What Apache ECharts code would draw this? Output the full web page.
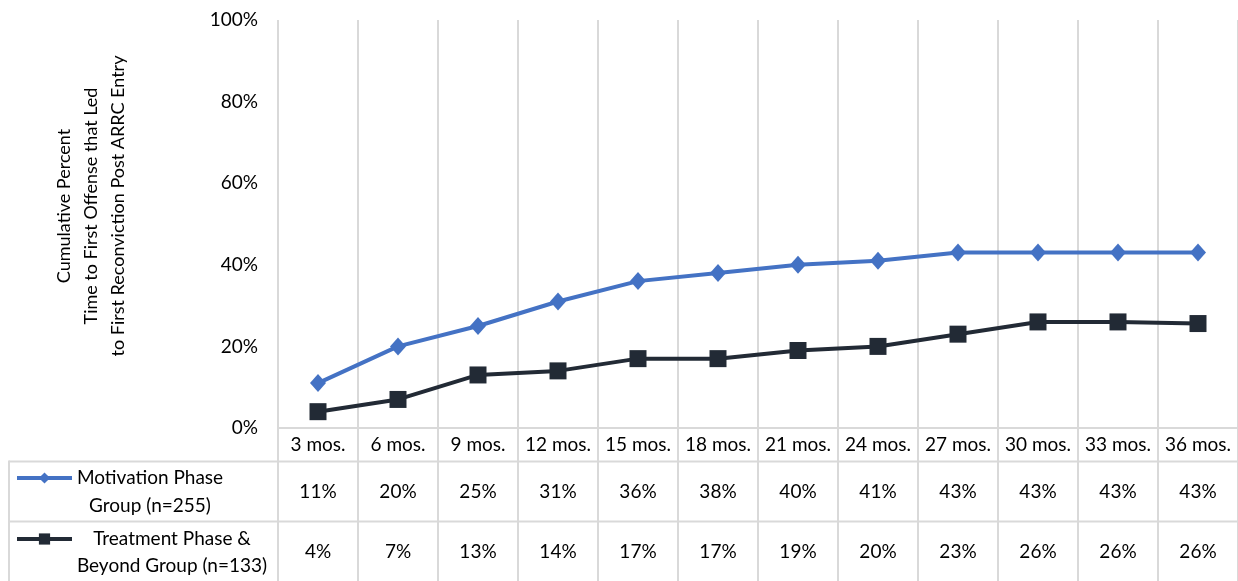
<!DOCTYPE html>
<html>
<head>
<meta charset="utf-8">
<script src="https://cdn.jsdelivr.net/npm/echarts@6/dist/echarts.min.js"></script>
<style>
  html, body { margin: 0; padding: 0; background: #fff; }
  #chart { width: 1238px; height: 581px; }
</style>
</head>
<body>
<div id="chart"></div>
<script>
const categories = ['3 mos.', '6 mos.', '9 mos.', '12 mos.', '15 mos.', '18 mos.', '21 mos.', '24 mos.', '27 mos.', '30 mos.', '33 mos.', '36 mos.'];
const motivation = [11, 20, 25, 31, 36, 38, 40, 41, 43, 43, 43, 43];
const treatment = [4, 7, 13, 14, 17, 17, 19, 20, 23, 26, 26, 25.6];
const seriesNames = ['Motivation Phase\nGroup (n=255)', 'Treatment Phase &\nBeyond Group (n=133)'];
const yAxisTitle = 'Cumulative Percent\nTime to First Offense that Led\nto First Reconviction Post ARRC Entry';

const FONT = 'Lato, "Liberation Sans", sans-serif';
const FS = 19;
const GRID_COLOR = '#D9D9D9';
const TEXT = '#000000';

const chart = echarts.init(document.getElementById('chart'), null, { renderer: 'canvas' });

function rowAxis(values, margin) {
  return {
    type: 'category',
    data: categories,
    position: 'bottom',
    gridIndex: 0,
    boundaryGap: true,
    axisLine: { show: false },
    axisTick: { show: false },
    splitLine: { show: false },
    axisLabel: {
      interval: 0,
      margin: margin,
      fontFamily: FONT,
      fontSize: FS,
      color: TEXT,
      formatter: function (v, i) { return Math.round(values[i]) + '%'; }
    }
  };
}

const option = {
  animation: false,
  backgroundColor: '#ffffff',
  grid: { left: 278, top: 20, width: 961, height: 408, containLabel: false },
  xAxis: [
    {
      type: 'category',
      data: categories,
      position: 'bottom',
      boundaryGap: true,
      axisLine: { show: true, lineStyle: { color: GRID_COLOR, width: 2 } },
      axisTick: { show: true, interval: 0, inside: false, length: 160, lineStyle: { color: GRID_COLOR, width: 2 } },
      splitLine: { show: true, interval: 0, lineStyle: { color: GRID_COLOR, width: 2 } },
      axisLabel: { interval: 0, margin: 7, fontFamily: FONT, fontSize: FS, color: TEXT }
    },
    rowAxis(motivation, 54),
    rowAxis(treatment, 114)
  ],
  yAxis: {
    type: 'value',
    min: 0,
    max: 100,
    interval: 20,
    axisLine: { show: false },
    axisTick: { show: false },
    splitLine: { show: false },
    axisLabel: { margin: 20, fontFamily: FONT, fontSize: FS, color: TEXT, formatter: '{value}%' }
  },
  legend: [
    {
      data: [seriesNames[0]],
      left: 15, top: 471, padding: 0, itemGap: 0,
      itemWidth: 55, itemHeight: 14,
      lineStyle: { width: 4 },
      formatter: function () { return ''; },
      selectedMode: false
    },
    {
      data: [seriesNames[1]],
      left: 15, top: 532, padding: 0, itemGap: 0,
      itemWidth: 55, itemHeight: 14,
      lineStyle: { width: 4 },
      formatter: function () { return ''; },
      selectedMode: false
    }
  ],
  series: [
    {
      name: seriesNames[0],
      type: 'line',
      data: motivation,
      symbol: 'diamond',
      symbolSize: [16, 18],
      lineStyle: { color: '#4472C4', width: 4 },
      itemStyle: { color: '#4472C4' },
      emphasis: { disabled: true }
    },
    {
      name: seriesNames[1],
      type: 'line',
      data: treatment,
      symbol: 'rect',
      symbolSize: 17,
      lineStyle: { color: '#222A35', width: 4 },
      itemStyle: { color: '#222A35' },
      emphasis: { disabled: true }
    }
  ],
  graphic: [
    { type: 'line', shape: { x1: 9, y1: 461.5, x2: 1240, y2: 461.5 }, style: { stroke: GRID_COLOR, lineWidth: 2 }, silent: true },
    { type: 'line', shape: { x1: 9, y1: 521.5, x2: 1240, y2: 521.5 }, style: { stroke: GRID_COLOR, lineWidth: 2 }, silent: true },
    { type: 'line', shape: { x1: 9, y1: 460.5, x2: 9, y2: 590 }, style: { stroke: GRID_COLOR, lineWidth: 2 }, silent: true },
    {
      type: 'text', x: 150, y: 492, silent: true,
      style: { text: seriesNames[0], fontFamily: FONT, fontSize: FS, fill: TEXT, align: 'center', verticalAlign: 'middle', lineHeight: 28 }
    },
    {
      type: 'text', x: 172, y: 552, silent: true,
      style: { text: seriesNames[1], fontFamily: FONT, fontSize: FS, fill: TEXT, align: 'center', verticalAlign: 'middle', lineHeight: 27 }
    },
    {
      type: 'text', x: 91, y: 206, rotation: Math.PI / 2, silent: true,
      style: { text: yAxisTitle, fontFamily: FONT, fontSize: 18, fill: TEXT, align: 'center', verticalAlign: 'middle', lineHeight: 27 }
    }
  ]
};

chart.setOption(option);
</script>
</body>
</html>
